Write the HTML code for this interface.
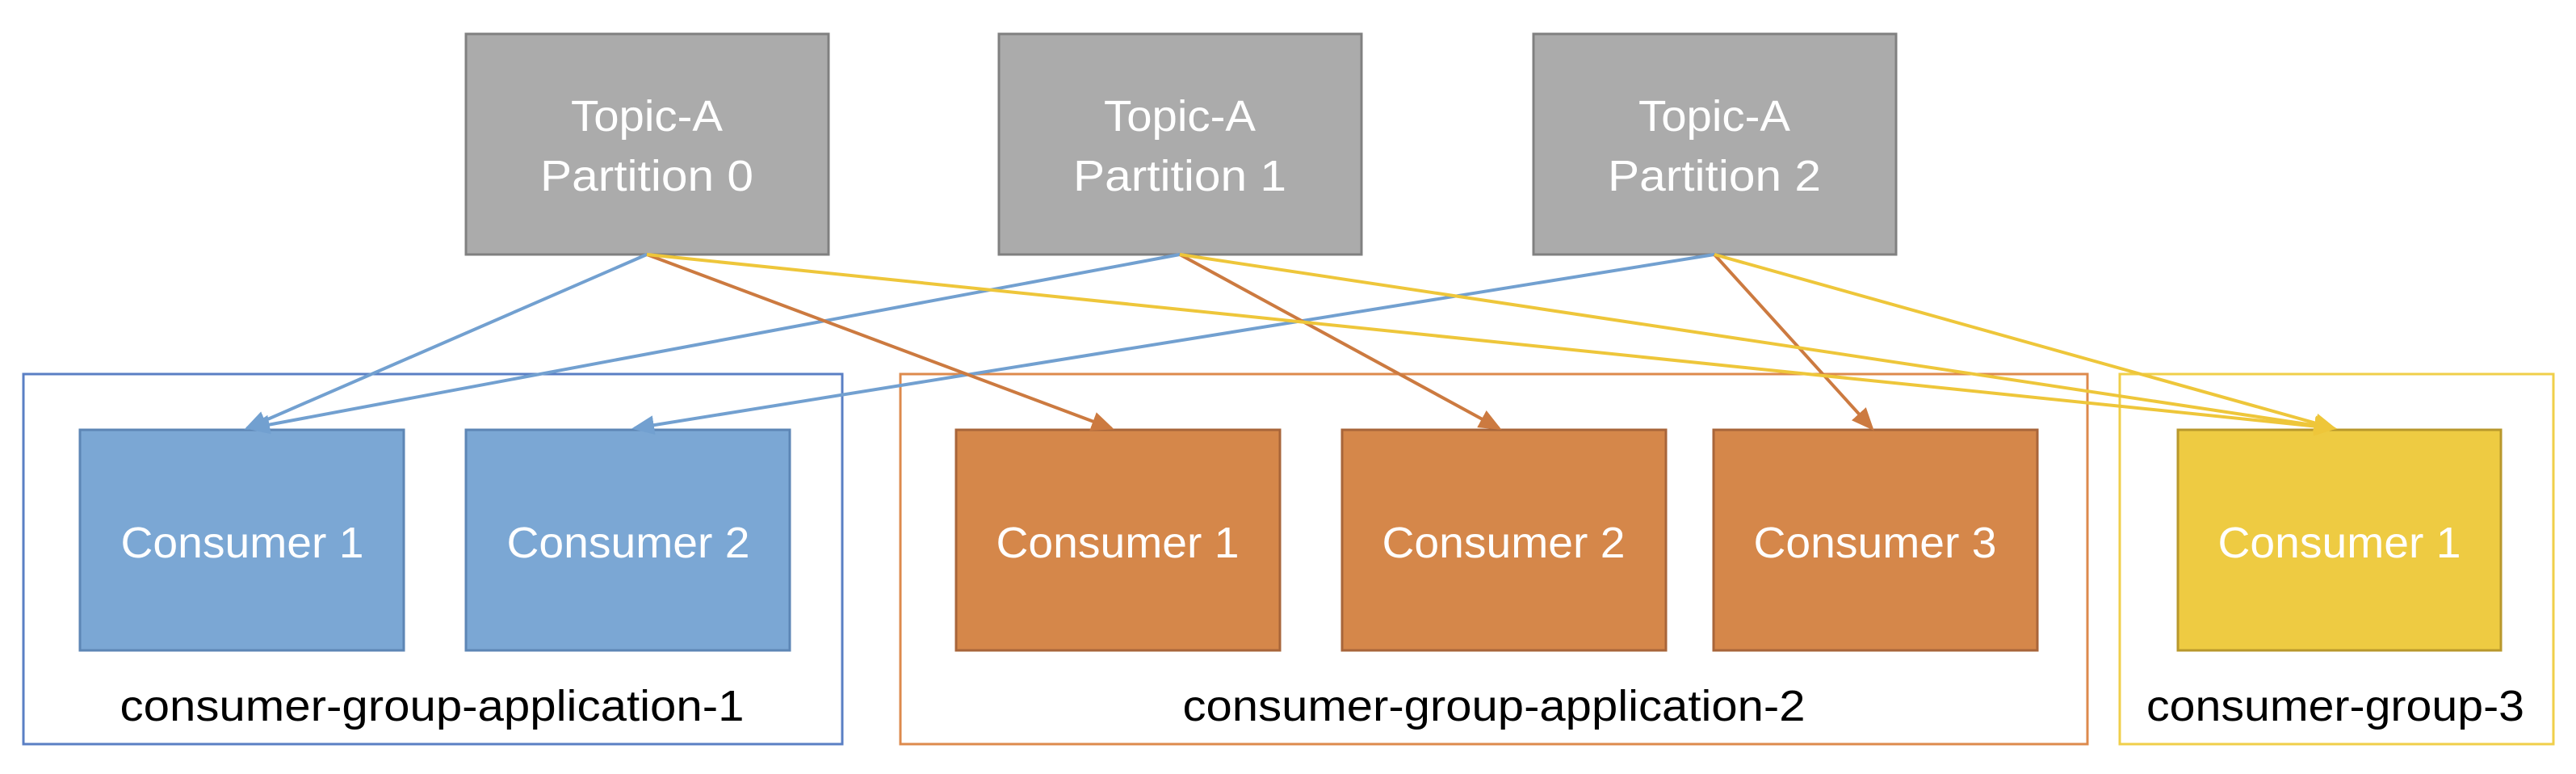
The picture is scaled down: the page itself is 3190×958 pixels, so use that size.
<!DOCTYPE html>
<html><head><meta charset="utf-8"><style>html,body{margin:0;padding:0;background:#fff;overflow:hidden}svg{display:block}</style></head>
<body>
<svg width="3190" height="958" viewBox="0 0 3190 958" xmlns="http://www.w3.org/2000/svg" font-family="'Liberation Sans Narrow','Liberation Sans',sans-serif">
<defs>
<marker id="ab" markerWidth="7" markerHeight="6" refX="6" refY="3" orient="auto" markerUnits="strokeWidth"><path d="M0,0 L7,3 L0,6 z" fill="#72a0d0"/></marker>
<marker id="ao" markerWidth="7" markerHeight="6" refX="6" refY="3" orient="auto" markerUnits="strokeWidth"><path d="M0,0 L7,3 L0,6 z" fill="#cc7a40"/></marker>
<marker id="ay" markerWidth="7" markerHeight="6" refX="6" refY="3" orient="auto" markerUnits="strokeWidth"><path d="M0,0 L7,3 L0,6 z" fill="#eec63a"/></marker>
</defs>
<rect x="29" y="463" width="1014" height="458" fill="none" stroke="#5a7fc4" stroke-width="3"/>
<rect x="1115" y="463" width="1470" height="458" fill="none" stroke="#dd8a4c" stroke-width="3"/>
<rect x="2625" y="463" width="537" height="458" fill="none" stroke="#f0cf4a" stroke-width="3"/>
<g fill="#ababab" stroke="#808080" stroke-width="3">
<rect x="577" y="42" width="449" height="273"/>
<rect x="1237" y="42" width="449" height="273"/>
<rect x="1899" y="42" width="449" height="273"/>
</g>
<g fill="#fff" font-size="54" text-anchor="middle">
<text x="801" y="162" textLength="188" lengthAdjust="spacingAndGlyphs">Topic-A</text>
<text x="801" y="236" textLength="264" lengthAdjust="spacingAndGlyphs">Partition 0</text>
<text x="1461" y="162" textLength="188" lengthAdjust="spacingAndGlyphs">Topic-A</text>
<text x="1461" y="236" textLength="264" lengthAdjust="spacingAndGlyphs">Partition 1</text>
<text x="2123" y="162" textLength="188" lengthAdjust="spacingAndGlyphs">Topic-A</text>
<text x="2123" y="236" textLength="264" lengthAdjust="spacingAndGlyphs">Partition 2</text>
</g>
<g stroke-width="3">
<rect x="99" y="532" width="401" height="273" fill="#7ba7d4" stroke="#5d86b5"/>
<rect x="577" y="532" width="401" height="273" fill="#7ba7d4" stroke="#5d86b5"/>
<rect x="1184" y="532" width="401" height="273" fill="#d5874a" stroke="#a8653a"/>
<rect x="1662" y="532" width="401" height="273" fill="#d5874a" stroke="#a8653a"/>
<rect x="2122" y="532" width="401" height="273" fill="#d5874a" stroke="#a8653a"/>
<rect x="2697" y="532" width="400" height="273" fill="#eecb42" stroke="#b8982c"/>
</g>
<g fill="#fff" font-size="54" text-anchor="middle">
<text x="300" y="690" textLength="301" lengthAdjust="spacingAndGlyphs">Consumer 1</text>
<text x="778" y="690" textLength="301" lengthAdjust="spacingAndGlyphs">Consumer 2</text>
<text x="1384" y="690" textLength="301" lengthAdjust="spacingAndGlyphs">Consumer 1</text>
<text x="1862" y="690" textLength="301" lengthAdjust="spacingAndGlyphs">Consumer 2</text>
<text x="2322" y="690" textLength="301" lengthAdjust="spacingAndGlyphs">Consumer 3</text>
<text x="2897" y="690" textLength="301" lengthAdjust="spacingAndGlyphs">Consumer 1</text>
</g>
<g fill="#000" font-size="54" text-anchor="middle">
<text x="535" y="892" textLength="773" lengthAdjust="spacingAndGlyphs">consumer-group-application-1</text>
<text x="1850" y="892" textLength="771" lengthAdjust="spacingAndGlyphs">consumer-group-application-2</text>
<text x="2892" y="892" textLength="468" lengthAdjust="spacingAndGlyphs">consumer-group-3</text>
</g>
<g fill="none" stroke-width="4">
<g stroke="#72a0d0" marker-end="url(#ab)">
<line x1="801" y1="315" x2="306" y2="530"/>
<line x1="1461" y1="315" x2="310" y2="530"/>
<line x1="2123" y1="315" x2="786" y2="530"/>
</g>
<g stroke="#cc7a40" marker-end="url(#ao)">
<line x1="801" y1="315" x2="1376" y2="530"/>
<line x1="1461" y1="315" x2="1856" y2="530"/>
<line x1="2123" y1="315" x2="2318" y2="530"/>
</g>
<g stroke="#eec63a" marker-end="url(#ay)">
<line x1="801" y1="315" x2="2890" y2="530"/>
<line x1="1461" y1="315" x2="2890" y2="530"/>
<line x1="2123" y1="315" x2="2890" y2="530"/>
</g>
</g>
</svg>
</body></html>
